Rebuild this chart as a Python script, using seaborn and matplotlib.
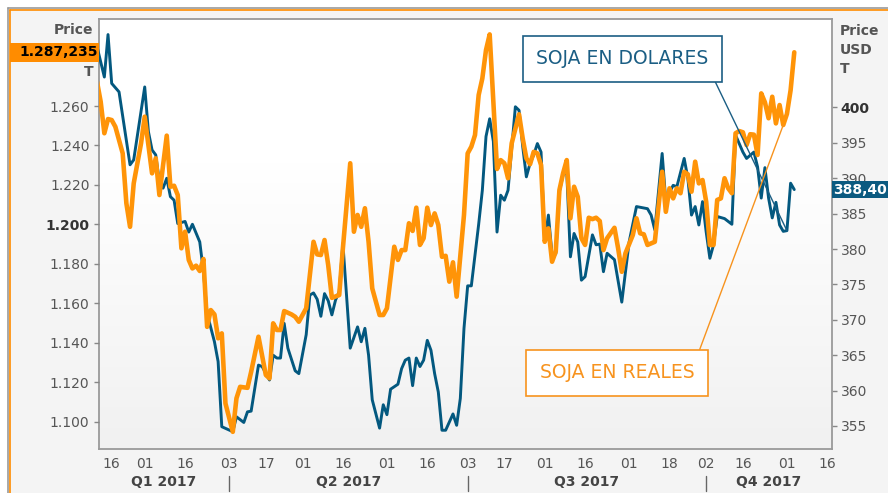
import numpy as np
import pandas as pd
import matplotlib
matplotlib.use("Agg")
import matplotlib.pyplot as plt
import matplotlib.transforms as mtransforms
from matplotlib.colors import LinearSegmentedColormap
from matplotlib.lines import Line2D
from matplotlib.patches import Rectangle
import seaborn as sns

# Soja en dolares (USD / t) -> right axis
usd_days = ["02-10", "02-14", "02-15", "02-16", "02-20", "02-23", "02-24", "03-01", "03-02", "03-03",
            "03-06", "03-07", "03-08", "03-09", "03-10", "03-13", "03-14", "03-16", "03-17", "03-20",
            "03-22", "03-23", "03-24", "03-28", "03-29", "03-30", "04-04", "04-05", "04-07", "04-10",
            "04-11", "04-13", "04-14", "04-18", "04-19", "04-20", "04-21", "04-24", "04-25", "04-27",
            "04-28", "05-02", "05-03", "05-04", "05-05", "05-08", "05-09", "05-10", "05-11", "05-12",
            "05-15", "05-16", "05-18", "05-22", "05-23", "05-24", "05-25", "05-26", "05-30", "05-31",
            "06-01", "06-02", "06-06", "06-07", "06-08", "06-09", "06-12", "06-13", "06-14", "06-15",
            "06-16", "06-19", "06-20", "06-21", "06-22", "06-23", "06-27", "06-28", "06-29", "06-30",
            "07-03", "07-04", "07-06", "07-07", "07-10", "07-11", "07-12", "07-13", "07-14", "07-17",
            "07-18", "07-20", "07-21", "07-24", "07-25", "07-26", "07-27", "07-28", "07-31", "08-01",
            "08-02", "08-03", "08-04", "08-07", "08-08", "08-09", "08-10", "08-11", "08-14", "08-15",
            "08-16", "08-18", "08-21", "08-22", "08-23", "08-24", "08-28", "08-30", "09-01", "09-05",
            "09-08", "09-11", "09-12", "09-14", "09-15", "09-18", "09-19", "09-20", "09-22", "09-25",
            "09-26", "09-27", "09-28", "09-29", "10-02", "10-03", "10-04", "10-05", "10-09", "10-11",
            "10-12", "10-16", "10-17", "10-19", "10-20", "10-23", "10-24", "10-25", "10-26", "10-27",
            "10-30", "10-31", "11-01", "11-02", "11-03"]
usd_price = [408.6, 404.3, 410.3, 403.4, 402.2, 391.9, 392.6, 402.9, 396.6, 394.0,
             393.3, 389.5, 388.6, 390.0, 387.4, 386.9, 383.6, 383.9, 382.4, 383.5,
             381.0, 376.8, 370.9, 366.9, 364.1, 354.9, 354.2, 356.3, 355.5, 357.0,
             357.1, 363.6, 363.4, 361.5, 365.0, 364.6, 364.6, 369.5, 366.0, 362.8,
             362.4, 367.9, 373.5, 373.8, 372.9, 370.5, 373.7, 372.7, 370.7, 372.8,
             374.0, 380.8, 366.0, 369.0, 366.9, 368.8, 365.0, 358.7, 354.7, 358.0,
             356.6, 360.2, 360.9, 363.1, 364.3, 364.6, 360.7, 364.6, 363.4, 364.3,
             367.1, 365.7, 362.4, 359.8, 354.4, 354.4, 356.7, 355.1, 358.9, 368.8,
             374.8, 374.8, 383.5, 388.3, 395.9, 398.4, 395.2, 382.4, 387.6, 386.9,
             388.3, 400.1, 399.6, 394.5, 390.2, 392.1, 393.3, 394.9, 393.7, 381.0,
             384.8, 379.2, 379.3, 388.1, 390.5, 390.9, 378.9, 382.2, 381.0, 375.6,
             376.1, 382.0, 380.6, 380.7, 376.8, 379.4, 378.5, 372.5, 381.0, 386.0,
             385.7, 384.8, 382.7, 393.5, 386.7, 388.0, 389.0, 388.8, 392.8, 390.0,
             384.8, 386.0, 383.4, 386.7, 382.4, 378.7, 380.6, 384.6, 384.3, 383.5,
             396.1, 393.7, 392.8, 393.7, 391.6, 387.2, 391.5, 387.2, 384.4, 386.6,
             383.4, 382.5, 382.6, 389.3, 388.40]

# Soja en reales (BRL / t) -> left axis
brl_days = ["02-10", "02-13", "02-14", "02-15", "02-16", "02-17", "02-21", "02-22", "02-23", "02-24",
            "02-28", "03-01", "03-03", "03-06", "03-07", "03-09", "03-10", "03-13", "03-14", "03-15",
            "03-16", "03-17", "03-20", "03-21", "03-22", "03-23", "03-24", "03-27", "03-28", "03-29",
            "03-30", "03-31", "04-04", "04-05", "04-06", "04-10", "04-11", "04-13", "04-17", "04-18",
            "04-19", "04-20", "04-21", "04-24", "04-26", "04-27", "04-28", "05-02", "05-04", "05-05",
            "05-08", "05-09", "05-10", "05-11", "05-15", "05-16", "05-18", "05-19", "05-22", "05-23",
            "05-24", "05-25", "05-26", "05-30", "05-31", "06-01", "06-05", "06-06", "06-07", "06-08",
            "06-09", "06-12", "06-13", "06-14", "06-15", "06-16", "06-19", "06-20", "06-21", "06-22",
            "06-23", "06-26", "06-27", "06-28", "06-30", "07-03", "07-04", "07-05", "07-06", "07-07",
            "07-10", "07-11", "07-13", "07-14", "07-17", "07-18", "07-19", "07-21", "07-24", "07-25",
            "07-26", "07-27", "07-28", "07-31", "08-01", "08-02", "08-03", "08-04", "08-07", "08-08",
            "08-09", "08-10", "08-11", "08-14", "08-15", "08-16", "08-17", "08-18", "08-21", "08-22",
            "08-23", "08-24", "08-28", "08-29", "08-30", "08-31", "09-04", "09-05", "09-06", "09-07",
            "09-08", "09-11", "09-12", "09-14", "09-15", "09-18", "09-19", "09-20", "09-21", "09-22",
            "09-25", "09-26", "09-27", "09-28", "09-29", "10-02", "10-03", "10-04", "10-05", "10-06",
            "10-09", "10-10", "10-11", "10-12", "10-13", "10-16", "10-17", "10-18", "10-19", "10-20",
            "10-23", "10-24", "10-25", "10-26", "10-27", "10-30", "10-31", "11-01", "11-02", "11-03"]
brl_price = [1272.3, 1262.2, 1246.2, 1253.4, 1252.9, 1249.5, 1236.0, 1210.7, 1198.8, 1220.8,
             1241.1, 1254.6, 1225.9, 1233.5, 1214.9, 1245.0, 1219.1, 1219.6, 1214.9, 1187.9,
             1196.3, 1182.0, 1177.7, 1179.1, 1176.4, 1182.5, 1148.1, 1156.6, 1154.4, 1142.3,
             1144.8, 1109.3, 1094.9, 1111.9, 1117.7, 1117.2, 1125.3, 1143.1, 1123.7, 1122.0,
             1149.9, 1146.5, 1146.5, 1156.1, 1154.4, 1153.2, 1150.7, 1157.5, 1191.2, 1184.8,
             1184.5, 1192.1, 1179.4, 1162.8, 1164.2, 1187.9, 1231.0, 1196.3, 1204.8, 1198.8,
             1208.2, 1191.2, 1167.6, 1154.1, 1154.1, 1157.5, 1188.7, 1182.0, 1187.0, 1187.0,
             1200.6, 1196.7, 1208.5, 1189.6, 1193.0, 1208.5, 1199.7, 1205.6, 1199.7, 1183.6,
             1184.1, 1171.0, 1180.8, 1163.4, 1204.8, 1236.0, 1239.4, 1245.3, 1265.6, 1274.0,
             1288.4, 1296.3, 1228.1, 1232.6, 1231.0, 1223.4, 1241.1, 1255.8, 1243.6, 1233.5,
             1230.5, 1236.8, 1236.0, 1230.1, 1191.2, 1198.0, 1181.1, 1186.2, 1217.4, 1225.9,
             1232.6, 1203.1, 1219.1, 1214.0, 1193.0, 1189.6, 1203.4, 1202.7, 1203.4, 1201.7,
             1187.0, 1193.0, 1198.3, 1187.9, 1176.0, 1185.4, 1194.6, 1203.1, 1195.5, 1195.0,
             1189.6, 1190.4, 1191.2, 1226.7, 1206.4, 1218.3, 1213.2, 1218.3, 1215.8, 1226.7,
             1225.4, 1216.6, 1231.8, 1220.8, 1222.5, 1211.5, 1189.6, 1189.6, 1212.4, 1213.2,
             1223.4, 1218.3, 1215.8, 1246.2, 1247.3, 1246.7, 1240.2, 1245.7, 1245.5, 1235.2,
             1266.4, 1261.9, 1253.8, 1264.7, 1251.2, 1260.5, 1250.4, 1256.0, 1268.0, 1287.235]

tick_days = ["02-16", "03-01", "03-16", "04-03", "04-17", "05-01", "05-16", "06-01", "06-16", "07-03",
             "07-17", "08-01", "08-16", "09-01", "09-18", "10-02", "10-16", "11-01", "11-16"]
quarter_starts = ["04-03", "07-03", "10-02"]
quarter_names = ["Q1 2017", "Q2 2017", "Q3 2017", "Q4 2017"]
brl_ticks = [1100, 1120, 1140, 1160, 1180, 1200, 1220, 1240, 1260]
usd_ticks = [355, 360, 365, 370, 375, 380, 385, 390, 395, 400]

BLUE = "#03587f"
ORANGE = "#ff9408"
TXT = "#555555"
W, H = 888, 493

# business-day axis
cal = pd.bdate_range("2017-02-10", "2017-11-30")


def to_pos(days):
    return cal.get_indexer(pd.to_datetime(["2017-" + d for d in days]))


usd = pd.DataFrame({"pos": to_pos(usd_days), "price": usd_price})
brl = pd.DataFrame({"pos": to_pos(brl_days), "price": brl_price})

sns.set_style("white")
plt.rcParams["font.family"] = ["DejaVu Sans"]

fig = plt.figure(figsize=(W / 100, H / 100), dpi=100)
fig.patch.set_facecolor("white")
fig.add_artist(Rectangle((8 / W, 0), 1, 1 - 8 / H, transform=fig.transFigure,
                         facecolor="#f4f4f4", edgecolor="none", zorder=-10))
fig.add_artist(Line2D([8 / W, 8 / W], [0, 1 - 8 / H], color="#9a9a9a", lw=1.2))
fig.add_artist(Line2D([8 / W, 1], [1 - 8 / H, 1 - 8 / H], color="#9a9a9a", lw=1.2))
fig.add_artist(Line2D([10 / W, 10 / W], [0, 1 - 10 / H], color="#ff8c00", lw=1.2))
fig.add_artist(Line2D([10 / W, 1], [1 - 10 / H, 1 - 10 / H], color="#ff8c00", lw=1.2))

ax = fig.add_axes([98.7 / W, 1 - 449 / H, 733 / W, 430 / H])
cmap = LinearSegmentedColormap.from_list("bg", ["#ffffff", "#ffffff", "#f8f8f8", "#f1f1f1"])
ax.imshow(np.linspace(0, 1, 256).reshape(-1, 1), extent=(0, 1, 0, 1), transform=ax.transAxes,
          cmap=cmap, aspect="auto", zorder=0)

ax2 = ax.twinx()
ax.yaxis.tick_right()
ax2.yaxis.tick_left()

sns.lineplot(data=usd, x="pos", y="price", ax=ax, color=BLUE, linewidth=2.1, zorder=3)
sns.lineplot(data=brl, x="pos", y="price", ax=ax2, color=ORANGE, linewidth=3.3, zorder=3)

ax.set_xlim(0.46, 200.2)
ax.set_ylim(351.75, 412.5)
ax2.set_ylim(1086.2, 1304.1)
for a in (ax, ax2):
    a.set_xlabel("")
    a.set_ylabel("")

for s in ax.spines.values():
    s.set_color("#9a9a9a")
    s.set_linewidth(1.3)
for s in ax2.spines.values():
    s.set_visible(False)

# x axis
ax.set_xticks(to_pos(tick_days))
ax.set_xticklabels([d[-2:] for d in tick_days])
ax.tick_params(axis="x", length=3, width=1, color="#888888", pad=3, labelsize=10, labelcolor=TXT)

# right axis (USD)
ax.set_yticks(usd_ticks)
ax.set_yticklabels([str(v) for v in usd_ticks])
ax.tick_params(axis="y", which="major", left=False, right=True, length=3.6, width=1,
               color="#888888", pad=3, labelsize=10, labelcolor=TXT)
for lab in ax.get_yticklabels():
    if lab.get_text() == "400":
        lab.set_fontweight("bold")
        lab.set_color("#333333")

# left axis (BRL)
ax2.set_yticks(brl_ticks)
ax2.set_yticklabels([f"{v / 1000:.3f}" for v in brl_ticks])
ax2.tick_params(axis="y", which="major", left=True, right=False, length=3.6, width=1,
                color="#888888", pad=3, labelsize=10, labelcolor=TXT)
for lab in ax2.get_yticklabels():
    if lab.get_text() == "1.200":
        lab.set_fontweight("bold")
        lab.set_color("#333333")

# quarter labels and separators
xt = mtransforms.blended_transform_factory(ax.transData, ax.transAxes)
q_pos = list(to_pos(quarter_starts))
bounds = [ax.get_xlim()[0]] + q_pos + [ax.get_xlim()[1]]
for i, name in enumerate(quarter_names):
    ax.text((bounds[i] + bounds[i + 1]) / 2, -0.077, name, transform=xt, ha="center", va="center",
            fontsize=10, fontweight="bold", color="#444444")
for p in q_pos:
    ax.plot([p, p], [-0.063, -0.098], transform=xt, clip_on=False, color="#666666", lw=1)

# axis titles
fig.text(93 / W, 1 - 30 / H, "Price", ha="right", va="center", fontsize=10, fontweight="bold", color=TXT)
fig.text(93 / W, 1 - 72 / H, "T", ha="right", va="center", fontsize=10, fontweight="bold", color=TXT)
fig.text(840 / W, 1 - 50 / H, "Price\nUSD\nT", ha="left", va="center", fontsize=10,
         fontweight="bold", color=TXT, linespacing=1.45)

# last value tags
last_brl = brl_price[-1]
lt = mtransforms.blended_transform_factory(fig.transFigure, ax2.transData)
ax2.add_patch(Rectangle((10 / W, last_brl - 4.7), 88.7 / W, 9.4, transform=lt,
                        facecolor="#ff8c00", edgecolor="none", clip_on=False, zorder=5))
brl_lab = f"{last_brl:,.3f}".replace(",", " ").replace(".", ",").replace(" ", ".")
ax2.text(97.5 / W, last_brl, brl_lab, transform=lt, ha="right", va="center", fontsize=10,
         fontweight="bold", color="black", zorder=6, clip_on=False)

last_usd = usd_price[-1]
rt = mtransforms.blended_transform_factory(fig.transFigure, ax.transData)
ax2.add_patch(Rectangle((831.7 / W, 0), 1, 1, transform=mtransforms.blended_transform_factory(
    fig.transFigure, ax2.transData), visible=False))
tag_h = 8.5 / (430 / (412.5 - 351.75))
ax2.add_artist(Rectangle((831.7 / W, last_usd - tag_h), 1, 2 * tag_h, transform=rt,
                         facecolor="#0b5a80", edgecolor="none", clip_on=False, zorder=5))
ax2.text(833 / W, last_usd, f"{last_usd:.2f}".replace(".", ","), transform=rt, ha="left",
         va="center", fontsize=10, fontweight="bold", color="white", zorder=6, clip_on=False)

# callouts
i_usd = usd_days.index("11-01")
i_brl = brl_days.index("10-31")
ax2.annotate("SOJA EN DOLARES", xy=(usd["pos"][i_usd], usd_price[i_usd]), xycoords=ax.transData,
             xytext=(0.7146, 0.908), textcoords="axes fraction", ha="center", va="center",
             fontsize=13.5, color="#1b5e84", zorder=7,
             bbox=dict(boxstyle="square,pad=0.72", fc="white", ec="#1b5e84", lw=1.2),
             arrowprops=dict(arrowstyle="-", color="#1b5e84", lw=1, relpos=(1, 0),
                             shrinkA=0, shrinkB=0))
ax2.annotate("SOJA EN REALES", xy=(brl["pos"][i_brl], brl_price[i_brl]), xycoords=ax2.transData,
             xytext=(0.7074, 0.177), textcoords="axes fraction", ha="center", va="center",
             fontsize=13.5, color="#f7931e", zorder=7,
             bbox=dict(boxstyle="square,pad=0.72", fc="white", ec="#f7931e", lw=1.2),
             arrowprops=dict(arrowstyle="-", color="#f7931e", lw=1, relpos=(1, 1),
                             shrinkA=0, shrinkB=0))

fig.savefig("out.png", dpi=100)
